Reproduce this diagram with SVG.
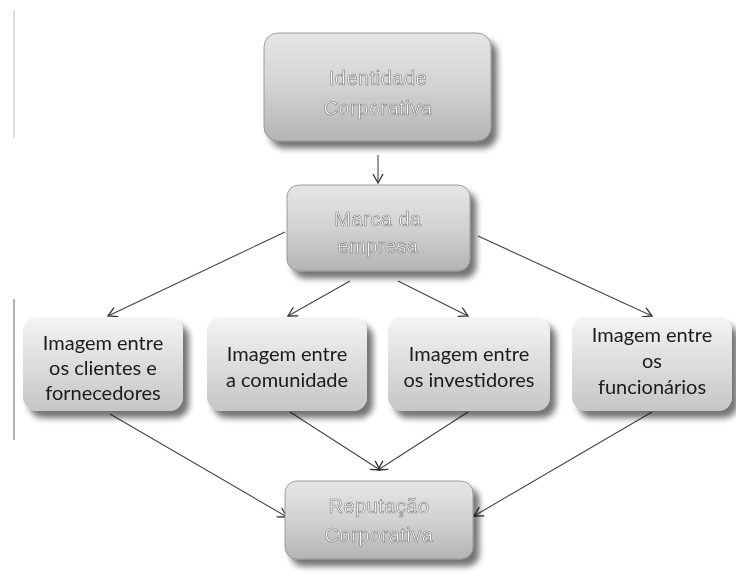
<svg xmlns="http://www.w3.org/2000/svg" width="736" height="578" viewBox="0 0 736 578">
<defs>
<linearGradient id="gTop" x1="0" y1="0" x2="0" y2="1">
<stop offset="0" stop-color="#e6e6e6"/><stop offset="0.5" stop-color="#d2d2d2"/><stop offset="1" stop-color="#b4b4b4"/>
</linearGradient>
<linearGradient id="gLow" x1="0" y1="0" x2="0" y2="1">
<stop offset="0" stop-color="#f4f4f4"/><stop offset="1" stop-color="#c6c6c6"/>
</linearGradient>
<filter id="sh" x="-20%" y="-20%" width="140%" height="150%">
<feGaussianBlur in="SourceAlpha" stdDeviation="3"/>
<feOffset dx="6" dy="7"/>
<feComponentTransfer><feFuncA type="linear" slope="0.55"/></feComponentTransfer>
<feMerge><feMergeNode/><feMergeNode in="SourceGraphic"/></feMerge>
</filter>
<marker id="ar" markerWidth="12" markerHeight="12" refX="10" refY="6" orient="auto" markerUnits="userSpaceOnUse">
<path d="M1,1 L10,6 L1,11" fill="none" stroke="#333" stroke-width="1.3"/>
</marker>
<style>
.top{fill:url(#gTop);stroke:#8a8a8a;stroke-width:0.8}
.low{fill:url(#gLow);stroke:none}
.tt{font-family:"Liberation Sans",Arial,sans-serif;font-size:20px;fill:#f7f7f7;stroke:#7a7a7a;stroke-width:0.6;text-anchor:middle;letter-spacing:0.5px}
.lt{font-family:Lato,"Open Sans",sans-serif;font-size:20px;fill:#1a1a1a;text-anchor:middle}
.c{stroke:#444;stroke-width:1.1;fill:none}
</style>
</defs>
<line x1="14" y1="10" x2="14" y2="138" stroke="#d4d4d4" stroke-width="1.5"/>
<line x1="14" y1="299" x2="14" y2="440" stroke="#999" stroke-width="1.5"/>
<g id="connectors">
<line class="c" x1="378" y1="155" x2="378" y2="183" marker-end="url(#ar)" stroke="#888"/>
<line class="c" x1="285" y1="232" x2="108" y2="316" marker-end="url(#ar)"/>
<line class="c" x1="350" y1="281" x2="288" y2="316" marker-end="url(#ar)"/>
<line class="c" x1="398" y1="281" x2="468" y2="316" marker-end="url(#ar)"/>
<line class="c" x1="478" y1="236" x2="652" y2="316" marker-end="url(#ar)"/>
<line class="c" x1="110" y1="414" x2="287" y2="517" marker-end="url(#ar)"/>
<line class="c" x1="290" y1="412" x2="380" y2="470" marker-end="url(#ar)"/>
<line class="c" x1="468" y1="412" x2="378" y2="470" marker-end="url(#ar)"/>
<line class="c" x1="652" y1="412" x2="474" y2="516" marker-end="url(#ar)"/>
</g>
<g id="identidade" filter="url(#sh)">
<rect class="top" x="264" y="33" width="227" height="108" rx="14"/>
<text class="tt" x="378" y="85">Identidade</text>
<text class="tt" x="378" y="115">Corporativa</text>
</g>
<g id="marca" filter="url(#sh)">
<rect class="top" x="287" y="185" width="183" height="86" rx="12"/>
<text class="tt" x="378" y="226">Marca da</text>
<text class="tt" x="378" y="253">empresa</text>
</g>
<g id="clientes" filter="url(#sh)">
<rect class="low" x="23" y="317" width="160" height="94" rx="14"/>
<text class="lt" x="103" y="350">Imagem entre</text>
<text class="lt" x="103" y="375">os clientes  e</text>
<text class="lt" x="103" y="400">fornecedores</text>
</g>
<g id="comunidade" filter="url(#sh)">
<rect class="low" x="207" y="317" width="160" height="94" rx="14"/>
<text class="lt" x="287" y="361">Imagem entre</text>
<text class="lt" x="287" y="387">a comunidade</text>
</g>
<g id="investidores" filter="url(#sh)">
<rect class="low" x="388" y="317" width="162" height="94" rx="14"/>
<text class="lt" x="469" y="361">Imagem entre</text>
<text class="lt" x="469" y="387">os investidores</text>
</g>
<g id="funcionarios" filter="url(#sh)">
<rect class="low" x="572" y="317" width="160" height="94" rx="14"/>
<text class="lt" x="652" y="342">Imagem entre</text>
<text class="lt" x="652" y="368">os</text>
<text class="lt" x="652" y="394">funcionários</text>
</g>
<g id="reputacao" filter="url(#sh)">
<rect class="top" x="285" y="481" width="188" height="78" rx="12"/>
<text class="tt" x="379" y="513">Reputação</text>
<text class="tt" x="379" y="542">Corporativa</text>
</g>
</svg>
